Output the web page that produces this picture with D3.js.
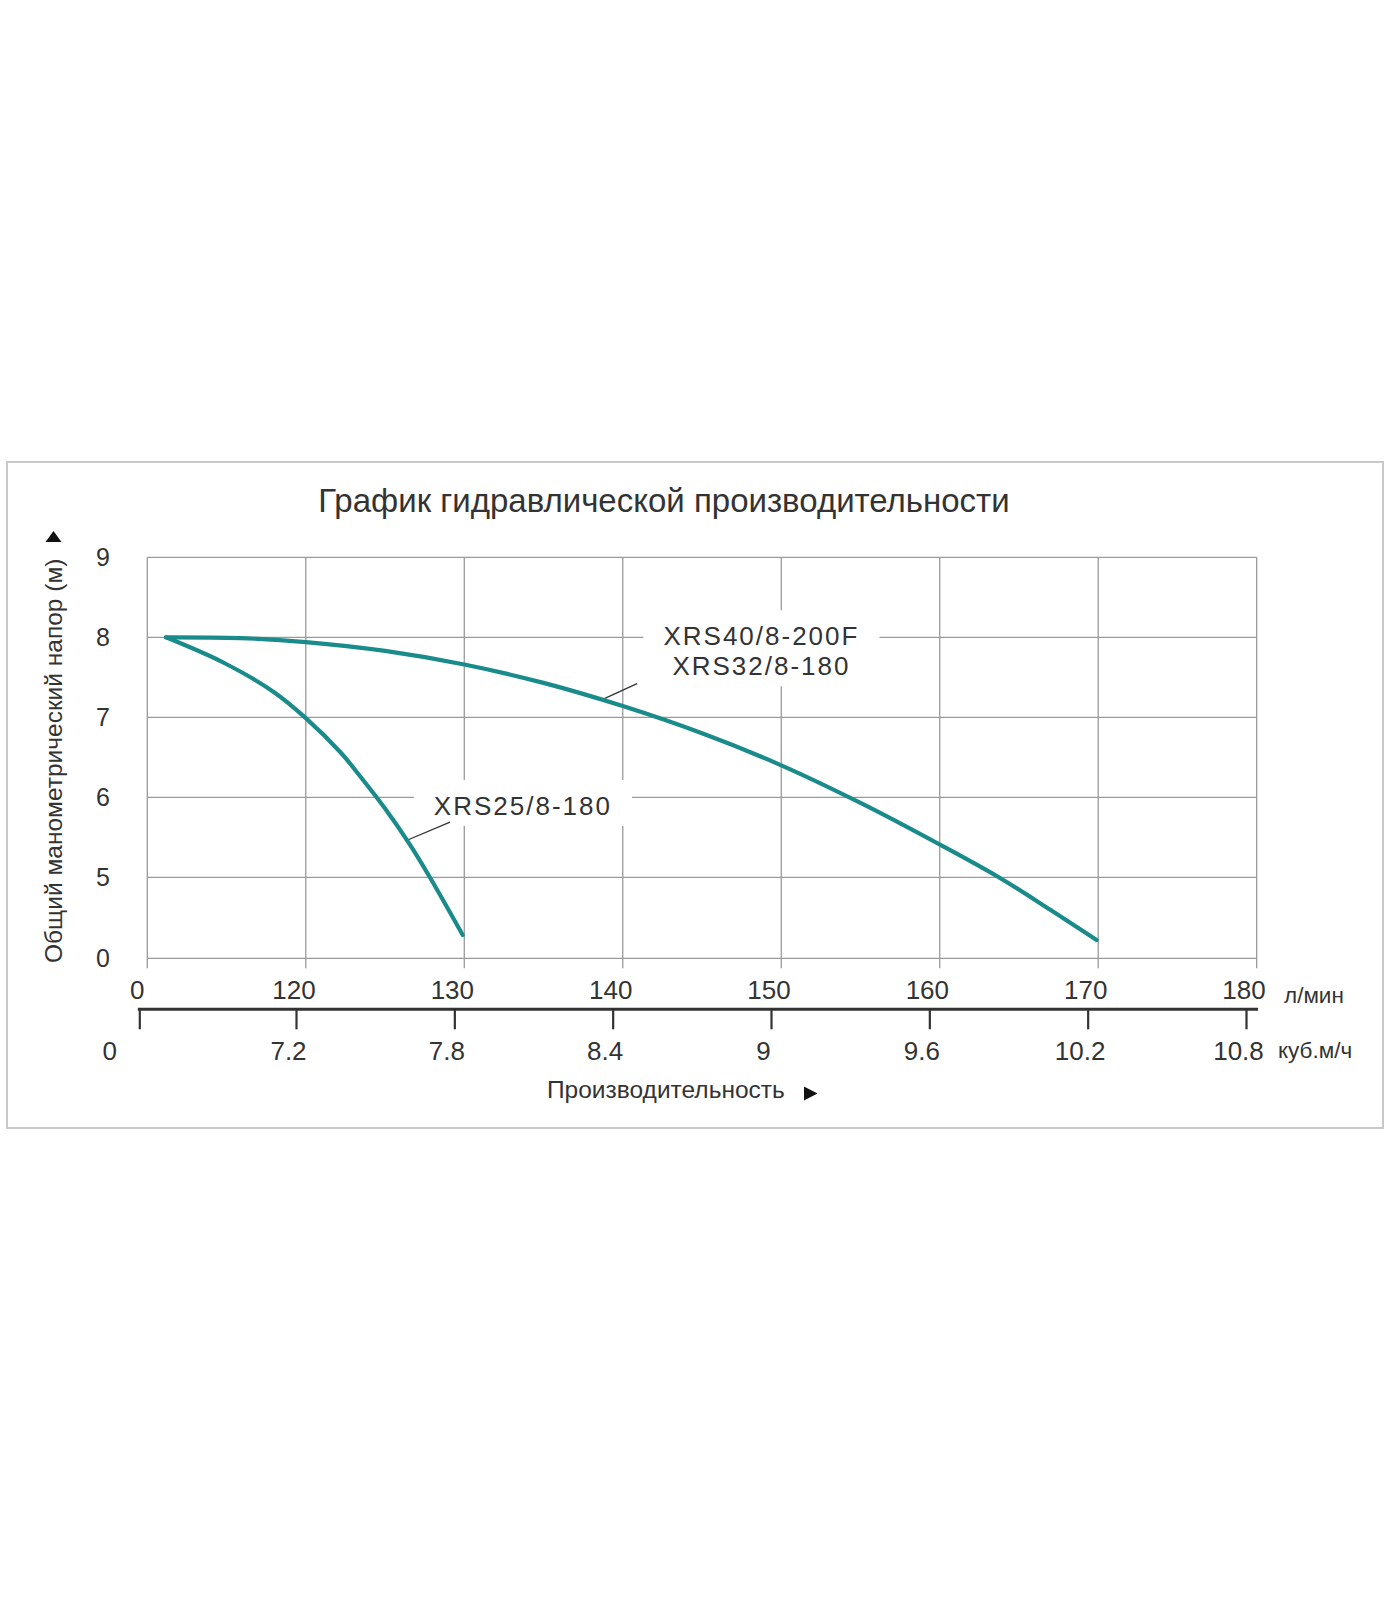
<!DOCTYPE html>
<html>
<head>
<meta charset="utf-8">
<script src="https://cdn.jsdelivr.net/npm/d3@7"></script>
<style>
  body { margin: 0; background: #fff; }
  text { font-family: "Liberation Sans", Arial, sans-serif; fill: #333; }
</style>
</head>
<body>
<div class="chart"></div>
<script>
// tick labels
var flowTicks = [0, 120, 130, 140, 150, 160, 170, 180];        // л/мин
var cubicTicks = [0, 7.2, 7.8, 8.4, 9, 9.6, 10.2, 10.8];       // куб.м/ч
var headTicks = [0, 5, 6, 7, 8, 9];                             // м

// curves: [flow л/мин, head м] (both axes are broken: below 120 and below 5)
var xrs25 = [[14.2, 8.0], [57.5, 7.685], [95.4, 7.32], [120, 6.99], [122.2, 6.56], [123.4, 6.27],
  [125, 5.86], [126.6, 5.4], [127.8, 5.01], [129.9, 1.44]];
var xrs40 = [[14.2, 8.0], [70.2, 7.99], [120, 7.94], [125, 7.83], [130, 7.66], [135, 7.43],
  [140, 7.14], [145, 6.8], [150, 6.4], [155, 5.93], [160, 5.41], [163.8, 4.96], [167, 2.98], [169.9, 1.13]];

// label anchor = baseline of first line
var labels = [
  { lines: ["XRS40/8-200F", "XRS32/8-180"], x: 148.75, y: 7.9, from: [138.7, 7.22], to: [140.9, 7.42] },
  { lines: ["XRS25/8-180"], x: 133.7, y: 5.78, from: [126.35, 5.46], to: [129.1, 5.69] }
];

var titleText = "График гидравлической производительности";
var yTitle = "Общий манометрический напор (м)";
var xTitle = "Производительность";

var values = { width: 1400, height: 1600 };

var x = d3.scaleLinear().domain([0, 120, 180]).range([147.3, 305.8, 1256.7]);
var y = d3.scaleLinear().domain([0, 5, 9]).range([958.3, 877.3, 557.3]);
// second axis (куб.м/ч) sits a little left of the grid, as in the original
var q = d3.scaleLinear().domain([0, 7.2, 10.8]).range([139.3, 296, 1246]);

var svg = d3.select(".chart").append("svg")
  .attr("width", values.width)
  .attr("height", values.height);

svg.append("rect")
  .attr("x", 7).attr("y", 462)
  .attr("width", 1376).attr("height", 666)
  .attr("fill", "#fff")
  .attr("stroke", "#c9c9c9")
  .attr("stroke-width", 2);

svg.append("text")
  .attr("x", 664).attr("y", 512)
  .attr("text-anchor", "middle")
  .style("font-size", "33px")
  .text(titleText);

// grid
var grid = svg.append("g").attr("stroke", "#9a9a9a").attr("stroke-width", 1.3);
grid.selectAll("line.h").data(headTicks).enter().append("line")
  .attr("class", "h")
  .attr("x1", x(0)).attr("x2", x(180))
  .attr("y1", d => y(d)).attr("y2", d => y(d));
grid.selectAll("line.v").data(flowTicks).enter().append("line")
  .attr("class", "v")
  .attr("x1", d => x(d)).attr("x2", d => x(d))
  .attr("y1", y(9)).attr("y2", y(0) + 10);

// y tick labels
svg.selectAll("text.ytick").data(headTicks).enter().append("text")
  .attr("class", "ytick")
  .attr("x", 103)
  .attr("y", d => y(d) + 9)
  .attr("text-anchor", "middle")
  .style("font-size", "25px")
  .text(d => d);

// y title with arrow
svg.append("text")
  .attr("transform", "translate(62," + ((y(0) + y(9)) / 2 + 3) + ") rotate(-90)")
  .attr("text-anchor", "middle")
  .style("font-size", "24.5px")
  .text(yTitle);
svg.append("path")
  .attr("d", "M53.5,531 L61.5,542 L45.5,542 Z")
  .attr("fill", "#111");

// top labels л/мин, placed over the куб.м/ч ticks
svg.selectAll("text.flow").data(flowTicks).enter().append("text")
  .attr("class", "flow")
  .attr("x", d => q(d * 0.06) - 2)
  .attr("y", 999)
  .attr("text-anchor", "middle")
  .style("font-size", "26px")
  .text(d => d);
svg.append("text")
  .attr("x", 1284).attr("y", 1003)
  .style("font-size", "22.5px")
  .text("л/мин");

// bottom axis куб.м/ч
var qAxis = d3.axisBottom(q)
  .tickValues(cubicTicks)
  .tickSize(20)
  .tickSizeOuter(0)
  .tickPadding(12)
  .tickFormat(d => d);
var ax = svg.append("g")
  .attr("transform", "translate(0,1009.3)")
  .call(qAxis);
ax.select(".domain").remove();
ax.append("line")
  .attr("x1", q(0) - 1.5).attr("x2", q(10.8) + 12)
  .attr("stroke", "#333").attr("stroke-width", 3);
ax.selectAll(".tick line").attr("stroke", "#333").attr("stroke-width", 2.2);
ax.selectAll(".tick text")
  .style("font-size", "26px")
  .attr("font-family", null)
  .attr("fill", "#333")
  .attr("dx", (d, i) => i === 0 ? -30 : -8);
svg.append("text")
  .attr("x", 1278).attr("y", 1058)
  .style("font-size", "22.5px")
  .text("куб.м/ч");

svg.append("text")
  .attr("x", 547).attr("y", 1098)
  .style("font-size", "24.5px")
  .text(xTitle);
svg.append("path")
  .attr("d", "M804,1086.5 L817.5,1093.5 L804,1100.5 Z")
  .attr("fill", "#111");

// label boxes and texts
labels.forEach(l => {
  var g = svg.append("g");
  g.selectAll("text").data(l.lines).enter().append("text")
    .attr("text-anchor", "middle")
    .style("font-size", "26px")
    .style("letter-spacing", "2px")
    .attr("x", x(l.x))
    .attr("y", (d, i) => y(l.y) + i * 30)
    .text(d => d);
  var b = g.node().getBBox();
  g.insert("rect", "text")
    .attr("x", b.x - 20).attr("y", b.y - 11)
    .attr("width", b.width + 40).attr("height", b.height + 16)
    .attr("fill", "#fff");
  svg.append("line")
    .attr("x1", x(l.from[0])).attr("y1", y(l.from[1]))
    .attr("x2", x(l.to[0])).attr("y2", y(l.to[1]))
    .attr("stroke", "#333").attr("stroke-width", 1.3);
});

// curves
var line = d3.line()
  .x(d => x(d[0]))
  .y(d => y(d[1]))
  .curve(d3.curveCatmullRom.alpha(0.5));

svg.selectAll("path.curve").data([xrs25, xrs40]).enter().append("path")
  .attr("class", "curve")
  .attr("d", line)
  .attr("fill", "none")
  .attr("stroke", "#1a8b8b")
  .attr("stroke-width", 4.2)
  .attr("stroke-linecap", "round")
  .attr("stroke-linejoin", "round");
</script>
</body>
</html>
